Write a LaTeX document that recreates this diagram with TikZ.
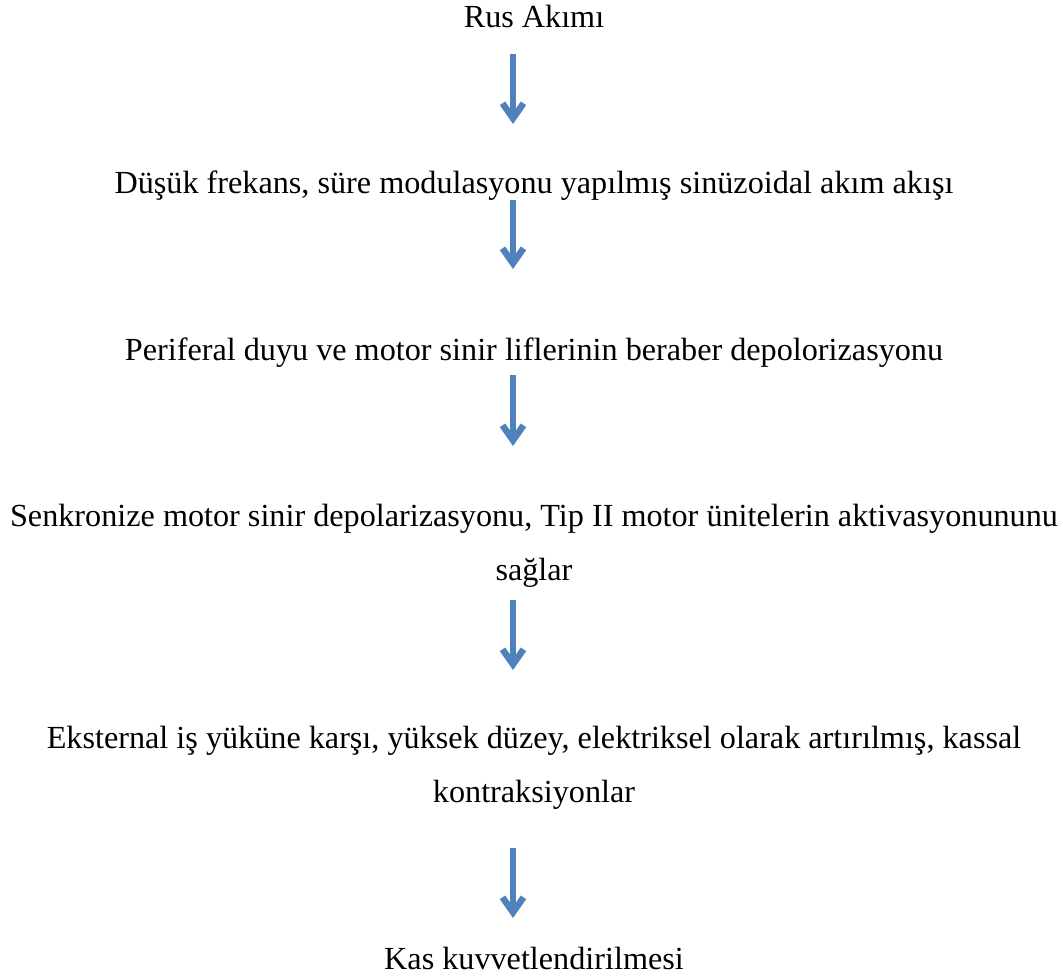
\documentclass[tikz,border=0pt]{standalone}
\usepackage{fontspec}
\setmainfont{Liberation Serif}
\usetikzlibrary{arrows.meta}
\definecolor{arrblue}{RGB}{79,129,189}
\begin{document}
\begin{tikzpicture}[x=1pt,y=-1pt,
  txt/.style={inner sep=0pt,anchor=base,font=\fontsize{32.2}{32.2}\selectfont},
  flow/.style={draw=arrblue,line width=5.5pt,-{Straight Barb[length=15pt,width=21pt,line width=6.5pt]}}]
\useasboundingbox (0,0) rectangle (1063,976);
\node[txt] (t1) at (534,28) {Rus Akımı};
\node[txt] (t2) at (534,194) {Düşük frekans, süre modulasyonu yapılmış sinüzoidal akım akışı};
\node[txt] (t3) at (534,360) {Periferal duyu ve motor sinir liflerinin beraber depolorizasyonu};
\node[txt] (t4a) at (534,526) {Senkronize motor sinir depolarizasyonu, Tip II motor ünitelerin aktivasyonununu};
\node[txt] (t4b) at (534,580) {sağlar};
\node[txt] (t5a) at (534,748) {Eksternal iş yüküne karşı, yüksek düzey, elektriksel olarak artırılmış, kassal};
\node[txt] (t5b) at (534,802) {kontraksiyonlar};
\node[txt] (t6) at (534,969) {Kas kuvvetlendirilmesi};
\coordinate (a1s) at (513,54);  \coordinate (a1e) at (513,124);
\coordinate (a2s) at (513,200); \coordinate (a2e) at (513,269);
\coordinate (a3s) at (513,375); \coordinate (a3e) at (513,446);
\coordinate (a4s) at (513,600); \coordinate (a4e) at (513,670);
\coordinate (a5s) at (513,848); \coordinate (a5e) at (513,918);
\draw[flow] (a1s) -- (a1e);
\draw[flow] (a2s) -- (a2e);
\draw[flow] (a3s) -- (a3e);
\draw[flow] (a4s) -- (a4e);
\draw[flow] (a5s) -- (a5e);
\end{tikzpicture}
\end{document}
